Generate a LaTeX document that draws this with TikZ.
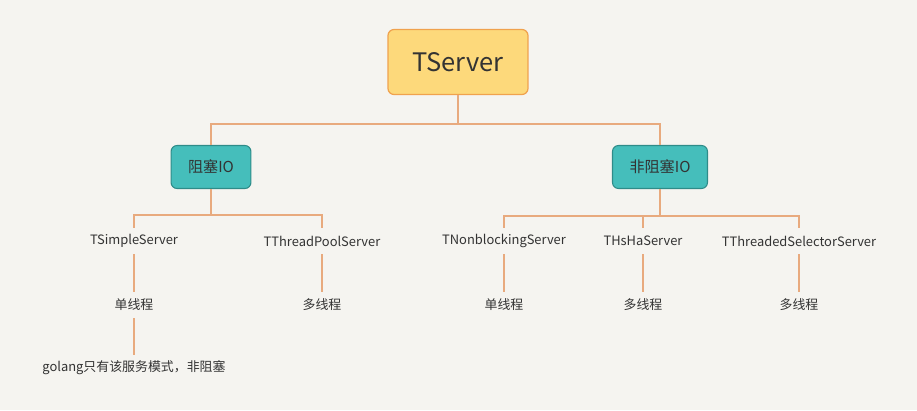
\documentclass[tikz,border=0pt]{standalone}
\usepackage{fontspec}
\setmainfont{Noto Sans CJK SC}
\definecolor{bgcol}{HTML}{F5F4F0}
\definecolor{linkcol}{HTML}{E8AA7E}
\definecolor{rootfill}{HTML}{FDD97B}
\definecolor{rootline}{HTML}{F0A24E}
\definecolor{iofill}{HTML}{45BEBB}
\definecolor{ioline}{HTML}{2E8C89}
\definecolor{textcol}{HTML}{333333}
\tikzset{
  rootbox/.style={draw=rootline, fill=rootfill, line width=0.7pt, rounded corners=0.12cm,
    minimum width=2.8cm, minimum height=1.3cm, text=textcol, font=\fontsize{14.5}{17}\selectfont},
  iobox/.style={draw=ioline, fill=iofill, line width=0.6pt, rounded corners=0.12cm,
    inner xsep=0.34cm, minimum height=0.86cm, text=textcol, font=\fontsize{8.6}{10}\selectfont},
  leaf/.style={inner sep=0pt, minimum height=0.52cm, text=textcol, font=\fontsize{7.35}{8.5}\selectfont},
  link/.style={draw=linkcol, line width=1.1pt},
}

\begin{document}
\begin{tikzpicture}[x=0.02cm, y=-0.02cm]
			%%%%% START %%%%%
			
			\fill[bgcol] (0, 0) rectangle (917, 410);
			\useasboundingbox (0, 0) rectangle (917, 410);
			
			\node[rootbox] (tserver) at (458, 62) {TServer};
			
			\node[iobox] (block) at (211, 167) {阻塞IO};
			\node[iobox] (nonblock) at (660, 167) {非阻塞IO};
			
			\draw[link] (tserver.south) -- ++(0, 29) -| (block.north);
			\draw[link] (tserver.south) -- ++(0, 29) -| (nonblock.north);
			
			\node[leaf] (simple) at (134, 241) {TSimpleServer};
			\node[leaf] (pool) at (322, 241) {TThreadPoolServer};
			\node[leaf] (nbserver) at (504, 241) {TNonblockingServer};
			\node[leaf] (hsha) at (643, 241) {THsHaServer};
			\node[leaf] (selector) at (799, 241) {TThreadedSelectorServer};
			
			\draw[link] (block.south) -- ++(0, 26) coordinate (blockbus);
			\draw[link] (simple.north) |- (blockbus) -| (pool.north);
			
			\draw[link] (nonblock.south) -- ++(0, 27) coordinate (nonblockbus);
			\draw[link] (nbserver.north) |- (nonblockbus) -| (selector.north);
			\draw[link] (hsha.north) -- (hsha.north |- nonblockbus);
			
			\node[leaf] (simplethr) at (134, 305) {单线程};
			\node[leaf] (poolthr) at (322, 305) {多线程};
			\node[leaf] (nbthr) at (504, 305) {单线程};
			\node[leaf] (hshathr) at (643, 305) {多线程};
			\node[leaf] (selectorthr) at (799, 305) {多线程};
			
			\draw[link] (simple.south) -- (simplethr.north);
			\draw[link] (pool.south) -- (poolthr.north);
			\draw[link] (nbserver.south) -- (nbthr.north);
			\draw[link] (hsha.south) -- (hshathr.north);
			\draw[link] (selector.south) -- (selectorthr.north);
			
			\node[leaf] (golang) at (134, 368) {golang只有该服务模式，非阻塞};
			\draw[link] (simplethr.south) -- (golang.north);
			
			%%%%% END %%%%%
\end{tikzpicture}
\end{document}
